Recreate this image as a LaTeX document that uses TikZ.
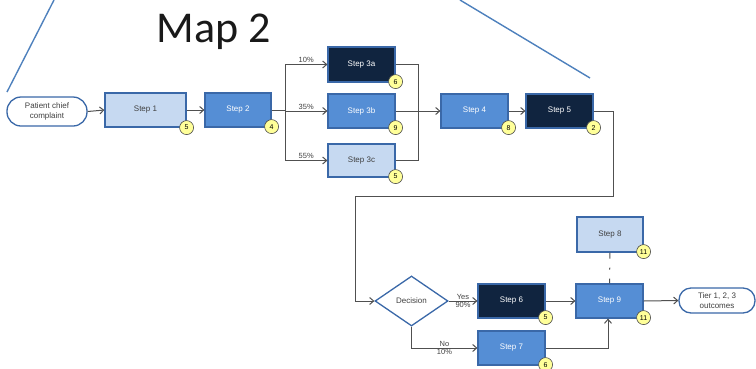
\documentclass[tikz,border=0pt]{standalone}
\usepackage{fontspec}
\setmainfont{Liberation Sans}
\newfontfamily\titlefont{Carlito}
\usetikzlibrary{arrows.meta,shapes.geometric}
\definecolor{lightfill}{HTML}{C6D9F1}
\definecolor{midfill}{HTML}{558ED5}
\definecolor{navyfill}{HTML}{10243F}
\definecolor{boxborder}{HTML}{3A68A8}
\definecolor{badgefill}{HTML}{FFFF99}
\definecolor{linegray}{HTML}{505050}
\definecolor{accentblue}{HTML}{4F81BD}
\tikzset{
  box/.style={draw=boxborder, line width=1.2pt, minimum width=67pt, minimum height=34pt, inner sep=1pt, font=\fontsize{8}{9.5}\selectfont},
  lightbox/.style={box, fill=lightfill, text=black!75},
  midbox/.style={box, fill=midfill, text=white},
  navybox/.style={box, fill=navyfill, text=white!85},
  badge/.style={circle, draw=black!70, line width=0.6pt, fill=badgefill, minimum size=14pt, inner sep=0pt, font=\fontsize{7}{8}\selectfont},
  terminal/.style={draw=boxborder, line width=1.3pt, fill=white, rounded corners=12pt, align=center, inner sep=1pt, font=\fontsize{8}{9.5}\selectfont, text=black!75},
  conn/.style={draw=linegray, line width=1pt},
  arr/.style={conn, -{Straight Barb[length=4pt,width=7pt]}},
  lbl/.style={font=\fontsize{7.5}{8.5}\selectfont, text=black!75, inner sep=1pt},
}
\begin{document}
\begin{tikzpicture}[x=1pt,y=-1pt]
\useasboundingbox (0,0) rectangle (756,368);
% decorative lines
\draw[accentblue, line width=1.4pt] (54,0) -- (7,92);
\draw[accentblue, line width=1.4pt] (460,0) -- (590,78);
% title
\node[anchor=base, font=\titlefont\fontsize{44}{48}\selectfont, text=black!90, inner sep=0pt] (title) at (213.5,42) {Map 2};
% nodes
\node[terminal, minimum width=80pt, minimum height=29pt, rounded corners=14pt] (pat) at (47,111.5) {Patient chief\\complaint};
\node[lightbox, minimum width=81pt] (s1) at (145.5,110) {Step 1};
\node[midbox, minimum width=66pt] (s2) at (238,110) {Step 2};
\node[navybox, minimum height=35pt] (s3a) at (361.5,64.5) {Step 3a};
\node[midbox] (s3b) at (361.5,111) {Step 3b};
\node[lightbox, minimum height=33pt] (s3c) at (361.5,160.5) {Step 3c};
\node[midbox] (s4) at (474.5,111) {Step 4};
\node[navybox] (s5) at (559.5,111) {Step 5};
\node[diamond, draw=boxborder, line width=1.3pt, fill=white, minimum width=73pt, minimum height=50pt, inner sep=0pt, font=\fontsize{8}{9.5}\selectfont, text=black!75] (dec) at (411.5,301) {Decision};
\node[navybox] (s6) at (511.5,301) {Step 6};
\node[midbox] (s9) at (609.5,301) {Step 9};
\node[lightbox, minimum width=66pt, minimum height=35pt] (s8) at (610,234.5) {Step 8};
\node[midbox] (s7) at (511.5,348) {Step 7};
\node[terminal, minimum width=76pt, minimum height=25pt] (tier) at (717,300.5) {Tier 1, 2, 3\\outcomes};
% badges
\node[badge] (b1) at ([yshift=0pt]s1.south east) {5};
\node[badge] (b2) at ([yshift=1pt]s2.south east) {4};
\node[badge] (b3a) at ([yshift=1pt]s3a.south east) {6};
\node[badge] (b3b) at ([yshift=1pt]s3b.south east) {9};
\node[badge] (b3c) at ([yshift=1pt]s3c.south east) {5};
\node[badge] (b4) at ([yshift=1pt]s4.south east) {8};
\node[badge] (b5) at ([yshift=1pt]s5.south east) {2};
\node[badge] (b6) at ([yshift=1pt]s6.south east) {5};
\node[badge] (b9) at ([yshift=1pt]s9.south east) {11};
\node[badge] (b8) at ([yshift=1pt]s8.south east) {11};
\node[badge] (b7) at ([yshift=1pt]s7.south east) {6};
% junction coordinates
\coordinate (jL) at (285,110);
\coordinate (jR) at (418,110);
\coordinate (c1) at (613,196);
\coordinate (c2) at (355,196);
% connectors
\draw[arr] (pat.east) -- (s1.west);
\draw[arr] (s1.east) -- (s2.west);
\draw[conn] (s2.east) -- (jL);
\draw[conn] (jL |- s3a.west) -- (jL |- s3c.west);
\draw[arr] (jL |- s3a.west) -- node[lbl, above] {10\%} (s3a.west);
\draw[arr] (jL |- s3b.west) -- node[lbl, above] {35\%} (s3b.west);
\draw[arr] (jL |- s3c.west) -- node[lbl, above] {55\%} (s3c.west);
\draw[conn] (s3a.east) -| (jR);
\draw[conn] (s3c.east) -| (jR);
\draw[arr] (s3b.east) -- (s4.west);
\draw[arr] (s4.east) -- (s5.west);
\draw[arr] (s5.east) -| (c1) -- (c2) |- (dec.west);
\draw[arr] (dec.east) -- node[lbl, above] {Yes} node[lbl, below] {90\%} (s6.west);
\draw[arr] (s6.east) -- (s9.west);
\draw[arr] (s9.east) -- (tier.west);
\draw[conn, dash pattern=on 6pt off 9pt on 2pt off 9pt] (s8.south) -- (s9.north);
\draw[arr] (dec.south) |- node[lbl, above, pos=0.75] {No} node[lbl, below, pos=0.75] {10\%} (s7.west);
\draw[arr] (s7.east) -| ([xshift=-1.5pt]s9.south);
\end{tikzpicture}
\end{document}
